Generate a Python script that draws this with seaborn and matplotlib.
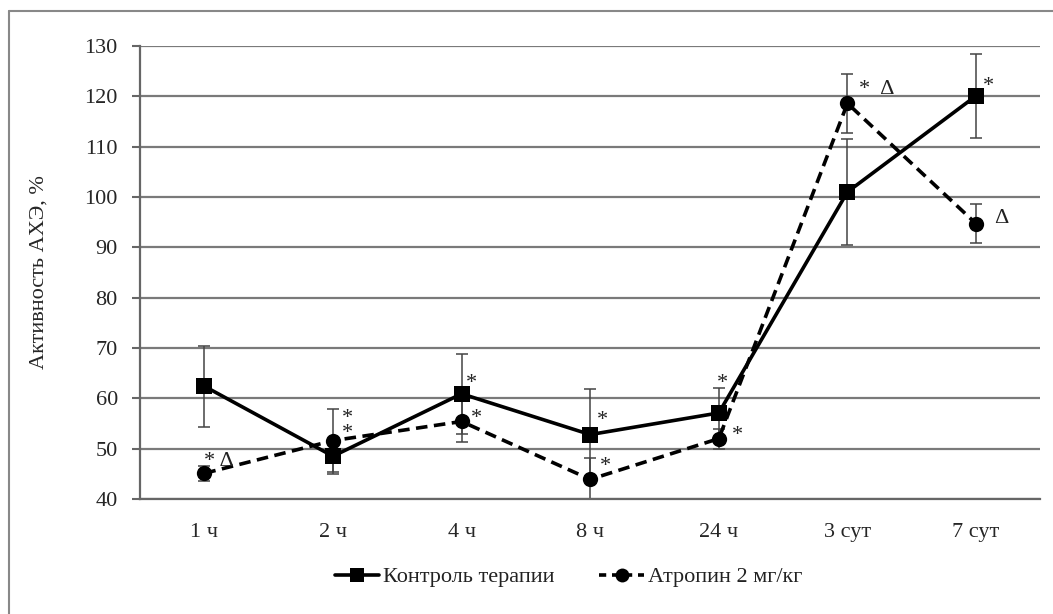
import numpy as np
import pandas as pd
import seaborn as sns
import matplotlib.pyplot as plt
from matplotlib.lines import Line2D

# --- data ---
TIMES = ['1 ч', '2 ч', '4 ч', '8 ч', '24 ч', '3 сут', '7 сут']
CTRL_NAME = 'Контроль терапии'
ATR_NAME = 'Атропин 2 мг/кг'
ctrl_mean = [62.4, 48.5, 60.9, 52.8, 57.1, 101.0, 120.1]
ctrl_err = [8.0, 3.5, 8.0, 9.0, 5.0, 10.5, 8.3]
atr_mean = [45.1, 51.6, 55.4, 43.9, 52.0, 118.6, 94.7]
atr_err = [1.5, 6.2, 4.0, 4.2, 2.0, 5.8, 3.9]
# at 2 h both stars sit stacked next to each other, so they go in one text
ctrl_marks = ['', '', '*', '*', '*', '', '*']
atr_marks = ['* Δ', '*\n*', '*', '*', '*', '*  Δ', 'Δ']

sns.set_style('white')
plt.rcParams['font.family'] = ['Liberation Serif', 'DejaVu Serif']
plt.rcParams['text.color'] = '#222222'

pos = np.arange(len(TIMES))
df = pd.concat([
    pd.DataFrame({'x': pos, 'y': ctrl_mean, 'group': CTRL_NAME}),
    pd.DataFrame({'x': pos, 'y': atr_mean, 'group': ATR_NAME}),
])

fig = plt.figure(figsize=(10.53, 6.14), dpi=100)
ax = fig.add_axes([0.133, 0.1873, 0.855, 0.7378])

# gridlines
for v in range(40, 131, 10):
    ax.axhline(v, color='#7a7a7a', lw=1.6, zorder=0)

ax.errorbar(pos, ctrl_mean, yerr=ctrl_err, fmt='none', ecolor='#444444',
            elinewidth=1.1, capsize=4, capthick=1.1, zorder=2)
ax.errorbar(pos, atr_mean, yerr=atr_err, fmt='none', ecolor='#444444',
            elinewidth=1.1, capsize=4, capthick=1.1, zorder=2)

sns.lineplot(data=df, x='x', y='y', style='group', hue='group',
             palette=['black', 'black'], markers={CTRL_NAME: 's', ATR_NAME: 'o'},
             dashes={CTRL_NAME: '', ATR_NAME: (3.2, 1.8)}, markersize=11,
             markeredgewidth=0, linewidth=2.6, ax=ax, legend=False, zorder=3)

# significance marks (offsets in pixels, y up)
ctrl_off = [(0, 0), (0, 0), (10, 10), (12, 14), (4, 29), (0, 0), (12, 9)]
atr_off = [(15, 12), (14, 15), (15, 3), (15, 13), (19, 3), (29, 14), (25, 5)]
for i in range(len(TIMES)):
    if ctrl_marks[i]:
        ax.annotate(ctrl_marks[i], (pos[i], ctrl_mean[i]), xytext=ctrl_off[i],
                    textcoords='offset pixels', ha='center', va='center',
                    fontsize=16)
    if atr_marks[i]:
        ax.annotate(atr_marks[i], (pos[i], atr_mean[i]), xytext=atr_off[i],
                    textcoords='offset pixels', ha='center', va='center',
                    fontsize=16, linespacing=0.7)

ax.set_xlim(-0.5, len(TIMES) - 0.5)
ax.set_ylim(40, 130)
ax.set_yticks(range(40, 131, 10))
ax.set_xticks(pos)
ax.set_xticklabels(TIMES)
ax.set_xticks(np.arange(-0.5, len(TIMES)), minor=True)
ax.tick_params(axis='x', which='major', length=0, pad=17, labelsize=16)
ax.tick_params(axis='x', which='minor', length=5, width=1.5, color='#666666', direction='out')
ax.tick_params(axis='y', length=6, width=1.5, color='#666666', labelsize=16, pad=10,
               direction='out', left=True)
ax.set_xlabel('')
ax.set_ylabel('Активность АХЭ, %', fontsize=16, labelpad=26)
for s in ['top', 'right']:
    ax.spines[s].set_visible(False)
for s in ['left', 'bottom']:
    ax.spines[s].set_color('#666666')
    ax.spines[s].set_linewidth(1.6)

handles = [
    Line2D([], [], color='black', lw=2.6, marker='s', markersize=10, markeredgewidth=0),
    Line2D([], [], color='black', lw=2.6, ls=(0, (2.0, 1.6)), marker='o', markersize=10,
           markeredgewidth=0),
]
fig.legend(handles, [CTRL_NAME, ATR_NAME], loc='center', bbox_to_anchor=(0.54, 0.06),
           ncol=2, frameon=False, fontsize=16, handlelength=2.0, handletextpad=0.2,
           columnspacing=2.0)

# outer frame
fig.add_artist(Line2D([0.009, 0.009], [0.0, 0.982], transform=fig.transFigure,
                      color='#888888', lw=1.5))
fig.add_artist(Line2D([0.009, 1.0], [0.982, 0.982], transform=fig.transFigure,
                      color='#888888', lw=1.5))

fig.savefig('out.png', dpi=100)
